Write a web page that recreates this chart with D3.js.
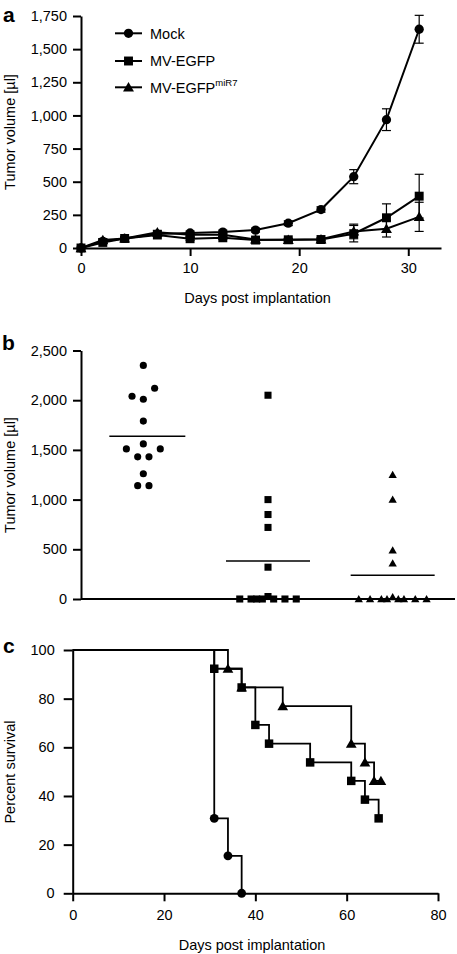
<!DOCTYPE html>
<html><head><meta charset="utf-8">
<script src="https://cdn.jsdelivr.net/npm/d3@7"></script>
<style>
body{margin:0;background:#fff}
svg text{font-family:"Liberation Sans",Arial,Helvetica,sans-serif;fill:#000}
</style>
</head><body>
<svg id="chart" width="457" height="954"></svg>
<script>
// ---------- Panel a: tumor growth (mean ± error) ----------
const days = [0, 2, 4, 7, 10, 13, 16, 19, 22, 25, 28, 31];
const mockMean = [0, 50, 72, 105, 113, 120, 135, 187, 290, 538, 968, 1650];
const mockErr  = [0, 10, 10, 15, 15, 15, 15, 18, 20, 53, 82, 105];
const egfpMean = [0, 42, 72, 98, 70, 77, 60, 62, 64, 108, 228, 391];
const egfpErr  = [0, 8, 10, 12, 12, 12, 10, 10, 10, 62, 105, 165];
const mirMean  = [0, 60, 72, 118, 100, 100, 65, 62, 66, 125, 145, 235];
const mirErr   = [0, 10, 10, 15, 12, 12, 10, 10, 10, 55, 62, 110];
const aYTicks = [0, 250, 500, 750, 1000, 1250, 1500, 1750];
const aXTicks = [0, 10, 20, 30];
const seriesNames = ["Mock", "MV-EGFP", "MV-EGFP"];
const seriesSup = ["", "", "miR7"];

// ---------- Panel b: individual tumor volumes at day 31 ----------
const groups = ["Mock", "MV-EGFP", "MV-EGFPmiR7"];
const mockVol  = [2350, 2120, 2040, 2010, 1790, 1560, 1510, 1510, 1430, 1430, 1260, 1140, 1140];
const mockSlot = [0, 2, -2, 0, 0, 0, -3, 3, -1, 1, 0, -1, 1];
const egfpVol  = [2050, 1000, 850, 720, 320, 0, 0, 0, 0, 25, 0, 0, 0];
const egfpSlot = [0, 0, 0, 0, 0, -5, -3, -2, -1, 0, 1, 3, 5];
const mirVol   = [1250, 1000, 490, 360, 0, 0, 0, 0, 20, 0, 0, 0, 0];
const mirSlot  = [0, 0, 0, 0, -6, -4, -2, -1, 0, 1, 2, 4, 6];
const bYTicks = [0, 500, 1000, 1500, 2000, 2500];

// ---------- Panel c: Kaplan-Meier survival ----------
const mockT = [0, 31, 34, 37];
const mockS = [100, 30.8, 15.4, 0];
const egfpT = [0, 31, 37, 40, 43, 52, 61, 64, 67];
const egfpS = [100, 92.3, 84.6, 69.2, 61.5, 53.8, 46.2, 38.5, 30.8];
const mirT  = [0, 34, 37, 46, 61, 64, 66, 67.5];
const mirS  = [100, 92.3, 84.6, 76.9, 61.5, 53.8, 46.2, 46.2];
const cYTicks = [0, 20, 40, 60, 80, 100];
const cXTicks = [0, 20, 40, 60, 80];

const svg = d3.select("#chart");
const FONT = '"Liberation Sans",Arial,Helvetica,sans-serif';
const symTypes = [d3.symbolCircle, d3.symbolSquare, d3.symbolTriangle];

function styleAxis(g, fs) {
  g.attr("font-family", FONT).attr("font-size", fs);
  g.selectAll("path.domain").attr("stroke", "#000").attr("stroke-width", 2);
  g.selectAll(".tick line").attr("stroke", "#000").attr("stroke-width", 2);
  g.selectAll(".tick text").attr("fill", "#000");
}
function panelLetter(t, x, y) {
  svg.append("text").attr("x", x).attr("y", y).attr("font-size", 21)
    .attr("font-weight", "bold").text(t);
}
function yTitle(t, cy) {
  svg.append("text").attr("transform", `translate(14.5,${cy}) rotate(-90)`)
    .attr("text-anchor", "middle").attr("font-size", 14.5).text(t);
}

// ================= PANEL A =================
{
  const x = d3.scaleLinear().domain([0, 33]).range([81, 441]);
  const y = d3.scaleLinear().domain([0, 1750]).range([248, 16]);
  const gx = svg.append("g").attr("transform", "translate(0,248)")
    .call(d3.axisBottom(x).tickValues(aXTicks).tickSize(8).tickSizeOuter(0).tickPadding(7));
  styleAxis(gx, 14.5);
  const gy = svg.append("g").attr("transform", "translate(81,0)")
    .call(d3.axisLeft(y).tickValues(aYTicks).tickSize(8).tickSizeOuter(0).tickPadding(6).tickFormat(d3.format(",")));
  styleAxis(gy, 14.5);

  const means = [mockMean, egfpMean, mirMean];
  const errs = [mockErr, egfpErr, mirErr];
  const sizes = [68, 80, 52];
  const order = [2, 1, 0];
  const line = d3.line().x(d => x(d[0])).y(d => y(d[1]));
  order.forEach(s => {
    const pts = days.map((d, i) => [d, means[s][i], errs[s][i]]);
    const g = svg.append("g");
    pts.filter(p => p[2] > 0).forEach(p => {
      const cx = x(p[0]);
      g.append("line").attr("x1", cx).attr("x2", cx).attr("y1", y(p[1] - p[2])).attr("y2", y(p[1] + p[2]))
        .attr("stroke", "#000").attr("stroke-width", 1.2);
      [p[1] - p[2], p[1] + p[2]].forEach(v => {
        g.append("line").attr("x1", cx - 4.5).attr("x2", cx + 4.5).attr("y1", y(v)).attr("y2", y(v))
          .attr("stroke", "#000").attr("stroke-width", 1.2);
      });
    });
    g.append("path").attr("d", line(pts)).attr("fill", "none").attr("stroke", "#000").attr("stroke-width", 2);
    g.selectAll("path.m").data(pts).join("path").attr("class", "m")
      .attr("transform", p => `translate(${x(p[0])},${y(p[1]) + (s === 2 ? 1 : 0)})`)
      .attr("d", d3.symbol(symTypes[s], sizes[s])).attr("fill", "#000");
  });

  const legY = [33.3, 61, 87.3];
  seriesNames.forEach((n, i) => {
    const ly = legY[i];
    svg.append("line").attr("x1", 115).attr("x2", 142).attr("y1", ly).attr("y2", ly)
      .attr("stroke", "#000").attr("stroke-width", 2);
    svg.append("path").attr("transform", `translate(128.5,${ly + (i === 2 ? 1 : 0)})`)
      .attr("d", d3.symbol(symTypes[i], sizes[i])).attr("fill", "#000");
    const t = svg.append("text").attr("x", 150).attr("y", ly + 5.2).attr("font-size", 14.5).text(n);
    if (seriesSup[i]) t.append("tspan").attr("dy", -6.5).attr("font-size", 9.5).text(seriesSup[i]);
  });

  svg.append("text").attr("x", 257.5).attr("y", 303).attr("text-anchor", "middle")
    .attr("font-size", 14.5).text("Days post implantation");
  yTitle("Tumor volume [µl]", 132);
  panelLetter("a", 3, 21.5);
}

// ================= PANEL B =================
{
  const x = d3.scalePoint().domain(groups).range([81, 455]).padding(0.5);
  const y = d3.scaleLinear().domain([0, 2500]).range([599, 350.5]);
  const gy = svg.append("g").attr("transform", "translate(81,0)")
    .call(d3.axisLeft(y).tickValues(bYTicks).tickSize(8).tickSizeOuter(0).tickPadding(6).tickFormat(d3.format(",")));
  styleAxis(gy, 14.5);
  svg.append("line").attr("x1", 81).attr("x2", 455).attr("y1", y(0)).attr("y2", y(0))
    .attr("stroke", "#000").attr("stroke-width", 2);

  const vols = [mockVol, egfpVol, mirVol];
  const slots = [mockSlot, egfpSlot, mirSlot];
  const sizes = [40, 50, 30];
  const unit = 5.65;
  groups.forEach((gname, gi) => {
    const cx = x(gname);
    const m = d3.mean(vols[gi]);
    const half = gi === 0 ? 38 : 42;
    svg.append("line").attr("x1", cx - half + (gi === 0 ? 4 : 0)).attr("x2", cx + half + (gi === 0 ? 4 : 0))
      .attr("y1", y(m)).attr("y2", y(m)).attr("stroke", "#000").attr("stroke-width", 1.5);
    svg.append("g").selectAll("path").data(vols[gi].map((v, i) => [v, slots[gi][i]])).join("path")
      .attr("transform", d => `translate(${cx + d[1] * unit},${y(d[0]) + (gi === 2 ? 0.8 : 0)})`)
      .attr("d", d3.symbol(symTypes[gi], sizes[gi])).attr("fill", "#000");
  });
  yTitle("Tumor volume [µl]", 475);
  panelLetter("b", 2, 350);
}

// ================= PANEL C =================
{
  const x = d3.scaleLinear().domain([0, 80]).range([72.7, 438]);
  const y = d3.scaleLinear().domain([0, 100]).range([893.3, 650]);
  const gx = svg.append("g").attr("transform", "translate(0,893.3)")
    .call(d3.axisBottom(x).tickValues(cXTicks).tickSize(8).tickSizeOuter(0).tickPadding(8));
  styleAxis(gx, 14.5);
  const gy = svg.append("g").attr("transform", "translate(72.7,0)")
    .call(d3.axisLeft(y).tickValues(cYTicks).tickSize(9).tickSizeOuter(0).tickPadding(9));
  styleAxis(gy, 14.5);

  const Ts = [mockT, egfpT, mirT];
  const Ss = [mockS, egfpS, mirS];
  const sizes = [62, 72, 50];
  const step = d3.line().curve(d3.curveStepAfter).x(d => x(d[0])).y(d => y(d[1]));
  [2, 1, 0].forEach(s => {
    const pts = Ts[s].map((t, i) => [t, Ss[s][i]]);
    svg.append("path").attr("d", step(pts)).attr("fill", "none")
      .attr("stroke", "#000").attr("stroke-width", 1.8);
    svg.append("g").selectAll("path").data(pts.slice(1)).join("path")
      .attr("transform", d => `translate(${x(d[0])},${y(d[1]) + (s === 2 ? 1 : 0)})`)
      .attr("d", d3.symbol(symTypes[s], sizes[s])).attr("fill", "#000");
  });
  svg.append("text").attr("x", 252).attr("y", 950).attr("text-anchor", "middle")
    .attr("font-size", 14.5).text("Days post implantation");
  yTitle("Percent survival", 772);
  panelLetter("c", 3, 653);
}
</script>
</body></html>
